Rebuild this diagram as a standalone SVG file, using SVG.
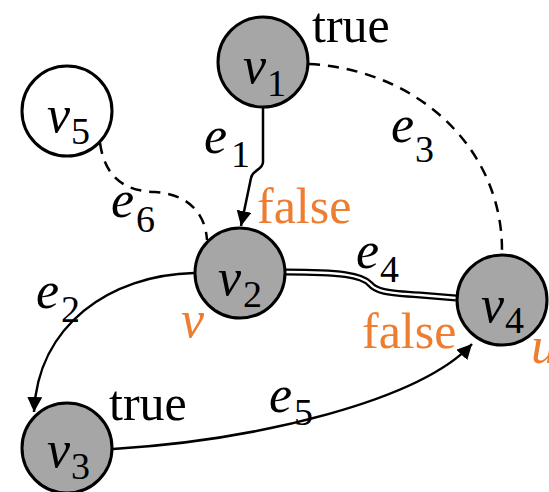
<svg xmlns="http://www.w3.org/2000/svg" width="549" height="492" viewBox="0 0 549 492">
<defs>
<marker id="ar" viewBox="0 0 10 10" refX="10" refY="5" markerWidth="6" markerHeight="6" orient="auto" markerUnits="strokeWidth">
<path d="M0,0 L10,5 L0,10 z" fill="#000"/>
</marker>
</defs>
<g id="edges" fill="none" stroke="#000" stroke-width="2.5">
<path id="e1" d="M263,108 L263,162 C263,170 252,170 251,178 L241,226" marker-end="url(#ar)"/>
<path id="e3" stroke-dasharray="11,8" d="M309,64 C420,70 502,150 502,250"/>
<path id="e6" stroke-dasharray="11,8" d="M100,143 C105,178 125,191 155,192 C185,194 205,210 207,240"/>
<g id="e4">
<path d="M286,272 C340,272 362,275 370,284 C376,291 385,293 420,295 L456,298" stroke-width="7"/>
<path d="M286,272 C340,272 362,275 370,284 C376,291 385,293 420,295 L456,298" stroke="#fff" stroke-width="2.5"/>
</g>
<path id="e2" d="M194,273 C110,275 38,325 34,412" marker-end="url(#ar)"/>
<path id="e5" d="M113,449 C260,440 420,400 472,344" marker-end="url(#ar)"/>
</g>
<g id="edge-labels">
<text x="204" y="153" style="font-family:'Times New Roman','Liberation Serif',serif;font-size:52px;font-style:italic">e<tspan x="231" y="167" style="font-size:38px;font-style:normal">1</tspan></text>
<text x="391" y="142" style="font-family:'Times New Roman','Liberation Serif',serif;font-size:52px;font-style:italic">e<tspan x="415" y="162" style="font-size:38px;font-style:normal">3</tspan></text>
<text x="111" y="217" style="font-family:'Times New Roman','Liberation Serif',serif;font-size:52px;font-style:italic">e<tspan x="136" y="232" style="font-size:38px;font-style:normal">6</tspan></text>
<text x="36" y="308" style="font-family:'Times New Roman','Liberation Serif',serif;font-size:52px;font-style:italic">e<tspan x="61" y="322" style="font-size:38px;font-style:normal">2</tspan></text>
<text x="356" y="268" style="font-family:'Times New Roman','Liberation Serif',serif;font-size:52px;font-style:italic">e<tspan x="380" y="282" style="font-size:38px;font-style:normal">4</tspan></text>
<text x="269" y="412" style="font-family:'Times New Roman','Liberation Serif',serif;font-size:52px;font-style:italic">e<tspan x="294" y="425" style="font-size:38px;font-style:normal">5</tspan></text>
</g>
<g id="v1">
<circle cx="263" cy="62" r="45" fill="#a6a6a6" stroke="#000" stroke-width="3"/>
<text x="243" y="83" style="font-family:'Times New Roman','Liberation Serif',serif;font-size:52px;font-style:italic">v<tspan x="267" y="96" style="font-size:38px;font-style:normal">1</tspan></text>
</g>
<g id="v5">
<circle cx="67" cy="111" r="45" fill="#fff" stroke="#000" stroke-width="3"/>
<text x="47" y="132" style="font-family:'Times New Roman','Liberation Serif',serif;font-size:52px;font-style:italic">v<tspan x="71" y="144" style="font-size:38px;font-style:normal">5</tspan></text>
</g>
<g id="v2">
<circle cx="240" cy="273" r="45" fill="#a6a6a6" stroke="#000" stroke-width="3"/>
<text x="218" y="295" style="font-family:'Times New Roman','Liberation Serif',serif;font-size:52px;font-style:italic">v<tspan x="243" y="307" style="font-size:38px;font-style:normal">2</tspan></text>
</g>
<g id="v4">
<circle cx="502" cy="300" r="45" fill="#a6a6a6" stroke="#000" stroke-width="3"/>
<text x="481" y="322" style="font-family:'Times New Roman','Liberation Serif',serif;font-size:52px;font-style:italic">v<tspan x="505" y="333" style="font-size:38px;font-style:normal">4</tspan></text>
</g>
<g id="v3">
<circle cx="67" cy="448" r="45" fill="#a6a6a6" stroke="#000" stroke-width="3"/>
<text x="47" y="467" style="font-family:'Times New Roman','Liberation Serif',serif;font-size:52px;font-style:italic">v<tspan x="71" y="479" style="font-size:38px;font-style:normal">3</tspan></text>
</g>
<g id="annotations">
<text x="312" y="42" style="font-family:'Times New Roman','Liberation Serif',serif;font-size:50px">true</text>
<text x="109" y="420" style="font-family:'Times New Roman','Liberation Serif',serif;font-size:50px">true</text>
<text x="257" y="223" fill="#ed7d31" style="font-family:'Times New Roman','Liberation Serif',serif;font-size:50px">false</text>
<text x="362" y="348" fill="#ed7d31" style="font-family:'Times New Roman','Liberation Serif',serif;font-size:50px">false</text>
<text x="181" y="337" fill="#ed7d31" style="font-family:'Times New Roman','Liberation Serif',serif;font-size:52px;font-style:italic">v</text>
<text x="531" y="363" fill="#ed7d31" style="font-family:'Times New Roman','Liberation Serif',serif;font-size:52px;font-style:italic">u</text>
</g>
</svg>
